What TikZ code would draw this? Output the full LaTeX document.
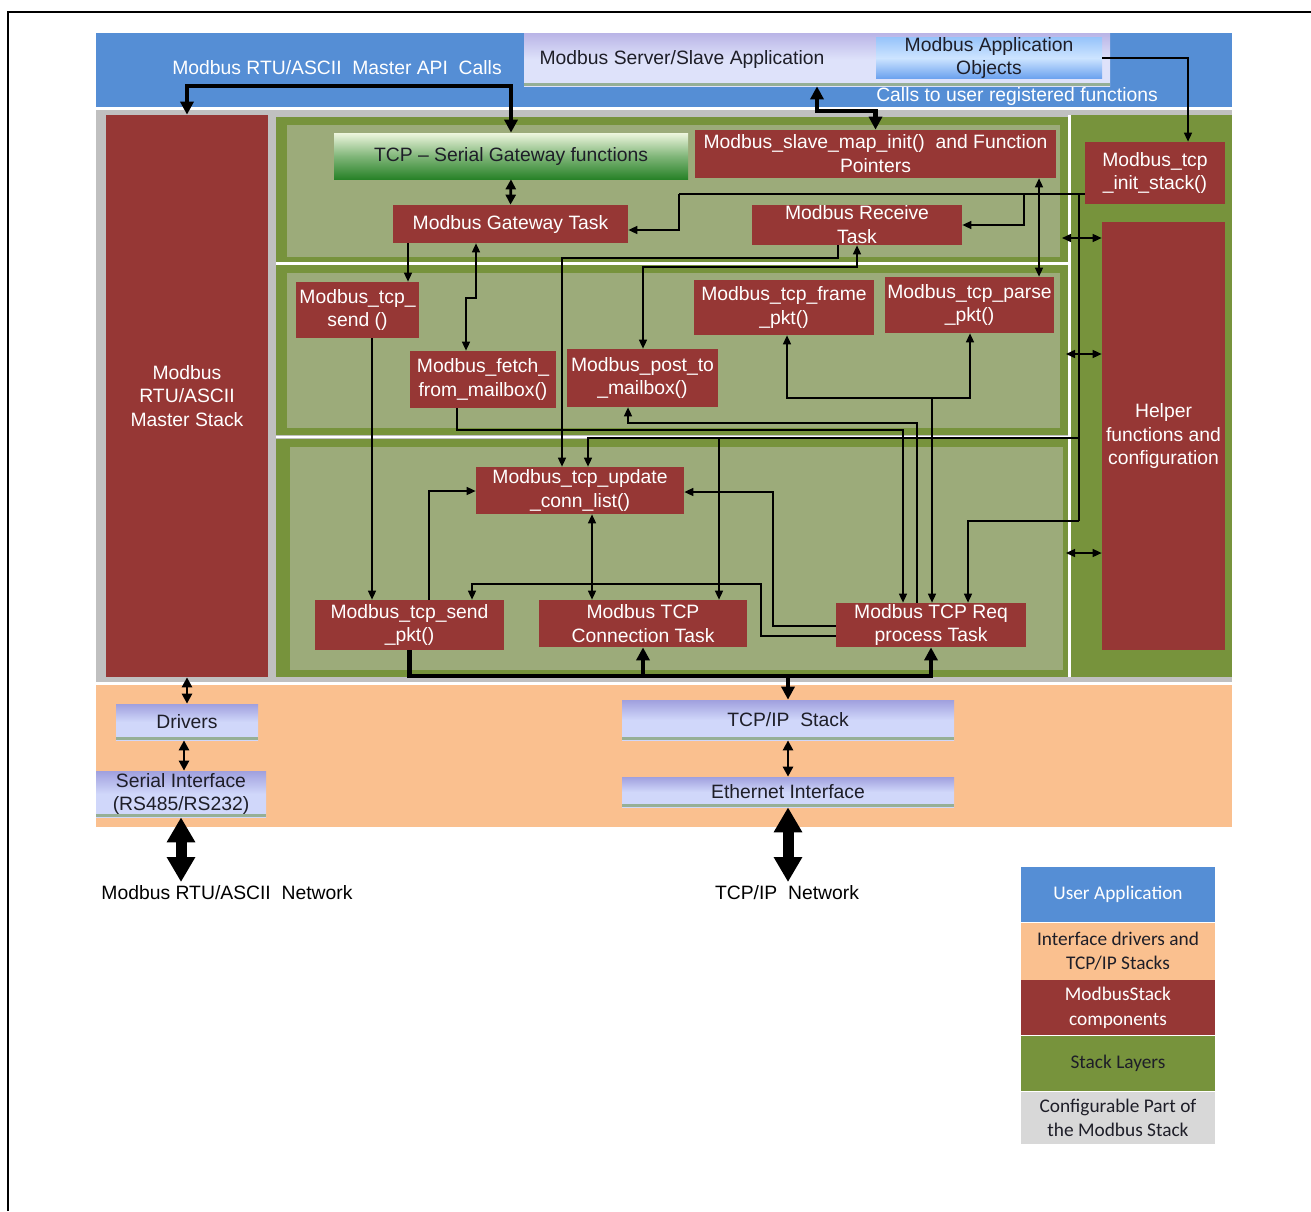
\documentclass[tikz,border=0pt]{standalone}
\usepackage{fontspec}
\setmainfont{Liberation Sans}
\newfontfamily\lgdfont{Carlito}
\usetikzlibrary{arrows.meta, positioning, calc}
\definecolor{userblue}{RGB}{85,142,213}
\definecolor{peach}{RGB}{250,192,143}
\definecolor{modred}{RGB}{150,55,53}
\definecolor{modgreen}{RGB}{119,147,60}
\definecolor{sage}{RGB}{156,171,122}
\definecolor{cfggray}{RGB}{192,192,192}
\definecolor{lgdgray}{RGB}{216,216,216}
\definecolor{lavtop}{RGB}{160,160,222}
\definecolor{lavlow}{RGB}{208,215,250}
\definecolor{lavedge}{RGB}{150,175,150}
\definecolor{srvtop}{RGB}{185,180,230}
\definecolor{srvlow}{RGB}{222,226,250}
\definecolor{inktext}{RGB}{30,30,40}
\definecolor{gwtop}{RGB}{238,246,222}
\definecolor{gwlow}{RGB}{40,130,40}
\definecolor{objtop}{RGB}{150,195,250}
\definecolor{objmid}{RGB}{205,228,255}
\definecolor{objlow}{RGB}{105,160,238}

\begin{document}
\begin{tikzpicture}[x=0.2mm, y=-0.2mm,
        blk/.style={rectangle, fill=modred, text=white, inner sep=0.5pt, align=center, font=\fontsize{11}{13.6}\selectfont},
        lav/.style={rectangle, top color=lavtop, bottom color=lavlow, middle color=lavlow, inner sep=0pt, align=center, text=inktext, font=\fontsize{11}{13.6}\selectfont},
        edged/.style={path picture={\fill[lavedge] ([yshift=0.6mm]path picture bounding box.south west) rectangle (path picture bounding box.south east);}},
        lbl/.style={inner sep=0pt, font=\fontsize{11}{13.6}\selectfont},
        lnk/.style={line width=0.85pt, >={Triangle[length=1.8mm,width=1.6mm]}},
        mid/.style={line width=1.6pt, >={Triangle[length=2mm,width=2mm]}},
        bus/.style={line width=2.3pt, >={Triangle[length=2.6mm,width=2.6mm]}},
        net/.style={line width=2.2mm, >={Triangle[length=5mm,width=5.4mm]}},
        lgd/.style={rectangle, minimum width=38.8mm, minimum height=11mm, inner sep=0pt, align=center, text=inktext, font=\lgdfont\fontsize{11}{14}\selectfont}
    ]
        \useasboundingbox (0,0) rectangle (1311,1211);
        \fill[white] (0,0) rectangle (1311,1211);
        \draw[line width=0.35mm] (8,1211) -- (8,12) -- (1311,12);

        \fill[userblue] (96,33) rectangle (1232,107);
        \fill[cfggray] (96,110) rectangle (1232,682);
        \fill[peach] (96,685) rectangle (1232,827);
        \fill[modgreen] (276,117) rectangle (1068,262);
        \fill[sage] (287,125) rectangle (1060,257);
        \fill[modgreen] (276,265) rectangle (1068,435);
        \fill[sage] (287,273) rectangle (1060,428);
        \fill[modgreen] (276,439) rectangle (1068,677);
        \fill[sage] (290,447) rectangle (1063,670);
        \fill[modgreen] (1071,115) rectangle (1232,677);
        \draw[white, line width=0.5mm] (276,263.5) -- (1068,263.5) (276,437) -- (1068,437) (1069.5,115) -- (1069.5,677);

        \node[lav, edged, top color=srvtop, bottom color=srvlow, middle color=srvlow, minimum width=117.2mm, minimum height=10.6mm] (server) at (817,59.5) {};
        \node[lbl, text=inktext] (srvtxt) at (682,60) {Modbus Server/Slave Application};
        \node[lav, top color=objtop, bottom color=objlow, middle color=objmid, minimum width=45.2mm, minimum height=7.2mm] (appobj) at (989,58) {Modbus Application\\Objects};
        \node[lbl, text=white] (apilbl) at (337,68) {Modbus RTU/ASCII~~Master API~~Calls};
        \node[lbl, text=white] (calllbl) at (1017,97) {Calls to user registered functions};

        \node[blk, minimum width=32.4mm, minimum height=112.4mm] (master) at (187,396) {Modbus\\RTU/ASCII\\Master Stack};
        \node[lav, top color=gwtop, bottom color=gwlow, middle color=gwtop!45!gwlow, minimum width=70.8mm, minimum height=9.2mm] (gwfunc) at (511,156) {TCP -- Serial Gateway functions};
        \node[blk, minimum width=72.2mm, minimum height=9.6mm] (slavemap) at (875.5,154) {Modbus\_slave\_map\_init()~~and Function\\Pointers};
        \node[blk, minimum width=47mm, minimum height=7.6mm] (gwtask) at (510.5,224) {Modbus Gateway Task};
        \node[blk, minimum width=42mm, minimum height=8mm] (rxtask) at (857,225) {Modbus Receive\\Task};
        \node[blk, minimum width=28mm, minimum height=12.4mm] (initstack) at (1155,173) {Modbus\_tcp\\\_init\_stack()};
        \node[blk, minimum width=24.6mm, minimum height=85.6mm] (helper) at (1163.5,436) {Helper\\functions and\\configuration};

        \node[blk, minimum width=24.6mm, minimum height=11.2mm] (tcpsend) at (357.5,310) {Modbus\_tcp\_\\send ()};
        \node[blk, minimum width=29.2mm, minimum height=11.4mm] (fetch) at (483,379.5) {Modbus\_fetch\_\\from\_mailbox()};
        \node[blk, minimum width=30.2mm, minimum height=11.6mm] (post) at (642.5,378) {Modbus\_post\_to\\\_mailbox()};
        \node[blk, minimum width=36mm, minimum height=11mm] (frame) at (784,307.5) {Modbus\_tcp\_frame\\\_pkt()};
        \node[blk, minimum width=33.8mm, minimum height=11.2mm] (parse) at (969.5,305) {Modbus\_tcp\_parse\\\_pkt()};

        \node[blk, minimum width=41.6mm, minimum height=9.4mm] (update) at (580,490.5) {Modbus\_tcp\_update\\\_conn\_list()};
        \node[blk, minimum width=37.8mm, minimum height=10mm] (sendpkt) at (409.5,625) {Modbus\_tcp\_send\\\_pkt()};
        \node[blk, minimum width=41.6mm, minimum height=9.4mm] (conntask) at (643,623.5) {Modbus TCP\\Connection Task};
        \node[blk, minimum width=38mm, minimum height=8.8mm] (reqtask) at (931,625) {Modbus TCP Req\\process Task};

        \node[lav, edged, minimum width=28.4mm, minimum height=7.2mm] (drivers) at (187,722) {Drivers};
        \node[lav, edged, minimum width=34mm, minimum height=9.2mm] (serial) at (181,794) {Serial Interface\\(RS485/RS232)};
        \node[lav, edged, minimum width=66.4mm, minimum height=8mm] (tcpstack) at (788,720) {TCP/IP~~Stack};
        \node[lav, edged, minimum width=66.4mm, minimum height=6mm] (eth) at (788,792) {Ethernet Interface};
        \node[lbl] (rtunet) at (227,893) {Modbus RTU/ASCII~~Network};
        \node[lbl] (tcpnet) at (787,893) {TCP/IP~~Network};

        \draw[bus,<->] (master.north) |- (350,86) -| (gwfunc.north);
        \draw[bus,<->] (server.south) |- (850,111) -| (slavemap.north);
        \draw[lnk,->] (appobj.east) -| (1188,0 |- initstack.north);

        \draw[mid,<->] (gwfunc.south) -- (gwtask.north);
        \coordinate (tap) at (initstack.west |- 0,194);
        \draw[lnk] (tap) -- (679,194);
        \draw[lnk,->] (679,194) |- (gwtask.east |- 0,230);
        \draw[lnk,->] (1024,194) |- (rxtask.east);
        \draw[lnk] (1079,194) -- (1079,521);
        \draw[lnk,->] (1079,521) -| (968,0 |- reqtask.north);
        \draw[lnk,->] (1079,438) -| (588,0 |- update.north);
        \draw[lnk,->] (719,438) -- (719,0 |- conntask.north);
        \draw[lnk,<->] (1039,0 |- slavemap.south) -- (1039,0 |- parse.north);
        \draw[lnk,<->] (1062,238) -- (helper.west |- 0,238);
        \draw[lnk,<->] (1066,354) -- (helper.west |- 0,354);
        \draw[lnk,<->] (1066,553) -- (helper.west |- 0,553);

        \draw[lnk,->] (408,0 |- gwtask.south) -- (408,0 |- tcpsend.north);
        \draw[lnk,<->] (476,0 |- gwtask.south) |- (466,298) -- (466,0 |- fetch.north);
        \draw[lnk,->] (838,0 |- rxtask.south) |- (562,258) -- (562,0 |- update.north);
        \draw[lnk,<->] (857,0 |- rxtask.south) |- (643,267) -- (643,0 |- post.north);
        \draw[lnk,->] (372,0 |- tcpsend.south) -- (372,0 |- sendpkt.north);
        \draw[lnk,->] (457,0 |- fetch.south) |- (903,430) -- (903,0 |- reqtask.north);
        \draw[lnk,->] (917,0 |- reqtask.north) |- (628,423) -- (628,0 |- post.south);
        \draw[lnk,<->] (787,0 |- frame.south) |- (970,398) -- (970,0 |- parse.south);
        \draw[lnk,->] (932,398) -- (932,0 |- reqtask.north);

        \draw[lnk,->] (reqtask.west |- 0,626) -| (773,492) -- (update.east |- 0,492);
        \draw[lnk,->] (reqtask.west |- 0,636) -| (761,584) -| (472,0 |- sendpkt.north);
        \draw[lnk,->] (429,0 |- sendpkt.north) |- (update.west |- 0,491);
        \draw[lnk,<->] (592,0 |- update.south) -- (592,0 |- conntask.north);

        \draw[bus,->] (sendpkt.south) |- (931,676) -- (reqtask.south);
        \draw[bus,->] (conntask.south |- 0,676) -- (conntask.south);
        \draw[bus,->] (tcpstack.north |- 0,676) -- (tcpstack.north);

        \draw[mid,<->] (master.south) -- (drivers.north);
        \draw[mid,<->] (184,0 |- drivers.south) -- (184,0 |- serial.north);
        \draw[net,<->] (serial.south) -- (serial.south |- 0,882);
        \draw[mid,<->] (tcpstack.south) -- (eth.north);
        \draw[net,<->] (eth.south) -- (eth.south |- 0,882);

        \node[lgd, fill=userblue, text=white] (lgapp) at (1118,894.5) {User Application};
        \node[lgd, fill=peach, minimum height=11.4mm, below=0pt of lgapp] (lgdrv) {Interface drivers and\\TCP/IP Stacks};
        \node[lgd, fill=modred, text=white, below=0pt of lgdrv] (lgred) {ModbusStack\\components};
        \node[lgd, fill=modgreen, below=0pt of lgred] (lglay) {Stack Layers};
        \node[lgd, fill=lgdgray, minimum height=10.4mm, below=0pt of lglay] (lgcfg) {Configurable Part of\\the Modbus Stack};
    \end{tikzpicture}
\end{document}
